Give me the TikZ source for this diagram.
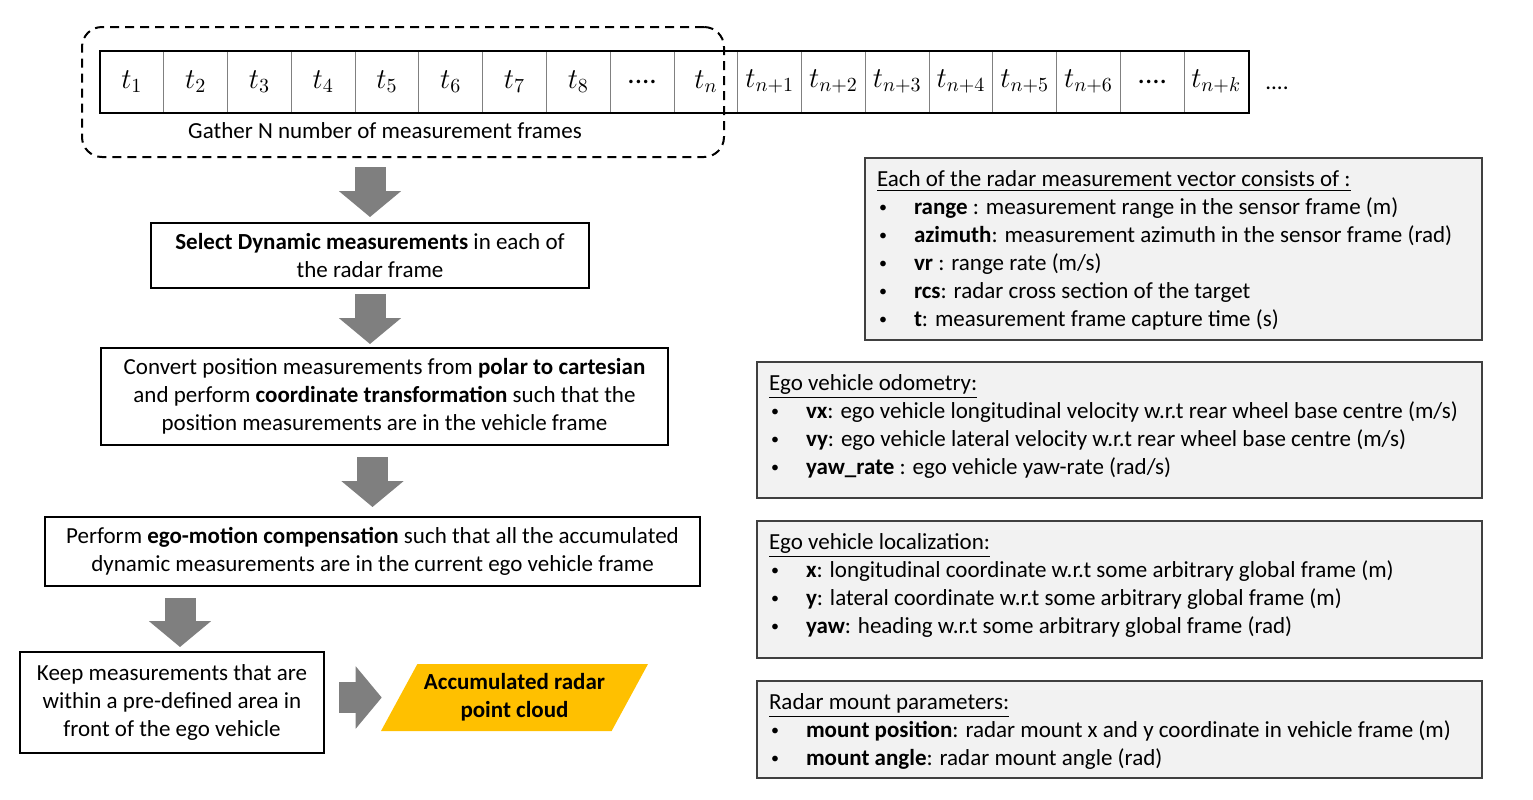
\documentclass[tikz,border=0pt]{standalone}
\usepackage{fontspec}
\setmainfont{Carlito}
\usetikzlibrary{arrows.meta,shapes.geometric}

\definecolor{arrowgray}{HTML}{7F7F7F}
\definecolor{cloudyellow}{HTML}{FFC000}
\definecolor{panelfill}{HTML}{F2F2F2}
\definecolor{paneldraw}{HTML}{404040}

\newcommand\framedots{....}
\newcommand\radbullet{\makebox[18.5pt][l]{\hspace{1pt}\raisebox{0.2ex}{\footnotesize\textbullet}}}

\tikzset{
    stepbox/.style={draw=black, line width=1pt, fill=white, align=center, inner sep=0pt},
    framecell/.style={draw=gray, line width=0.5pt, minimum width=31.89pt, minimum height=30.5pt, inner sep=0pt},
    fatarrow/.style={draw=arrowgray, line width=15.5pt, -{Triangle[width=30.5pt,length=13pt]}},
    infobox/.style={draw=paneldraw, line width=1pt, fill=panelfill, anchor=north west, inner xsep=6pt, inner ysep=6.5pt, align=left},
}

\begin{document}
\begin{tikzpicture}[x=0.5pt, y=-0.5pt, font=\fontsize{11.5}{14}\selectfont]
    \useasboundingbox (0,0) rectangle (1533,799);

    % measurement frames
    \foreach \lbl [count=\i] in {$t_1$,$t_2$,$t_3$,$t_4$,$t_5$,$t_6$,$t_7$,$t_8$,\framedots,$t_n$,
        $t_{n+1}$,$t_{n+2}$,$t_{n+3}$,$t_{n+4}$,$t_{n+5}$,$t_{n+6}$,\framedots,$t_{n+k}$}
        \node[framecell, font=\fontsize{14.5}{14}\selectfont] (cell\i) at ({100+63.78*(\i-0.5)},81.5) {\lbl};
    \draw[line width=1pt] (cell1.north west) rectangle (cell18.south east);
    \node (more) at (1277,88) {\framedots};

    \node[draw, line width=1pt, dash pattern=on 4.5pt off 3pt, rounded corners=10pt,
        minimum width=321pt, minimum height=65pt] (gather) at (403,92) {};
    \node (gatherlbl) at (385,131) {Gather N number of measurement frames};

    % processing steps
    \node[stepbox, minimum width=219pt, minimum height=32.5pt] (select) at (370,255.5)
        {\textbf{Select Dynamic measurements} in each of\\the radar frame};
    \node[stepbox, minimum width=283.5pt, minimum height=48.5pt] (convert) at (384.5,396.5)
        {Convert position measurements from \textbf{polar to cartesian}\\and perform \textbf{coordinate transformation} such that the\\position measurements are in the vehicle frame};
    \node[stepbox, minimum width=327.5pt, minimum height=34.5pt] (comp) at (372.5,551.5)
        {Perform \textbf{ego-motion compensation} such that all the accumulated\\dynamic measurements are in the current ego vehicle frame};
    \node[stepbox, minimum width=152pt, minimum height=50.5pt] (keep) at (172,702.5)
        {Keep measurements that are\\within a pre-defined area in\\front of the ego vehicle};
    \node[trapezium, trapezium left angle=52.7, trapezium right angle=127.3, trapezium stretches body,
        fill=cloudyellow, minimum width=133.5pt, minimum height=33.5pt, inner sep=0pt, align=center,
        font=\fontsize{11.5}{14}\selectfont\bfseries] (cloud) at (514.5,697.5) {Accumulated radar\\point cloud};

    \draw[fatarrow, shorten <=4.5pt, shorten >=2.5pt] (gather.south -| select.north) -- (select.north);
    \draw[fatarrow, shorten <=2.5pt, shorten >=1.5pt] (select.south) -- (select.south |- convert.north);
    \draw[fatarrow, shorten <=5.5pt, shorten >=4.5pt] (convert.south -| comp.north) -- (comp.north);
    \draw[fatarrow, shorten <=5.5pt, shorten >=2pt] ([xshift=4pt]keep.north |- comp.south) -- ([xshift=4pt]keep.north);
    \draw[fatarrow, shorten <=7pt, shorten >=8.5pt] (keep.east |- cloud.left side) -- (cloud.left side);

    % input data
    \node[infobox] (meas) at (864,157) {\parbox[c][78pt][t]{296.5pt}{%
        \underline{Each of the radar measurement vector consists of :}\\
        \radbullet\textbf{range} : measurement range in the sensor frame (m)\\
        \radbullet\textbf{azimuth}: measurement azimuth in the sensor frame (rad)\\
        \radbullet\textbf{vr} : range rate (m/s)\\
        \radbullet\textbf{rcs}: radar cross section of the target\\
        \radbullet\textbf{t}: measurement frame capture time (s)}};
    \node[infobox] (odom) at (756,361) {\parbox[c][55pt][t]{350.5pt}{%
        \underline{Ego vehicle odometry:}\\
        \radbullet\textbf{vx}: ego vehicle longitudinal velocity w.r.t rear wheel base centre (m/s)\\
        \radbullet\textbf{vy}: ego vehicle lateral velocity w.r.t rear wheel base centre (m/s)\\
        \radbullet\textbf{yaw\_rate} : ego vehicle yaw-rate (rad/s)}};
    \node[infobox] (local) at (756,520) {\parbox[c][55.5pt][t]{350.5pt}{%
        \underline{Ego vehicle localization:}\\
        \radbullet\textbf{x}: longitudinal coordinate w.r.t some arbitrary global frame (m)\\
        \radbullet\textbf{y}: lateral coordinate w.r.t some arbitrary global frame (m)\\
        \radbullet\textbf{yaw}: heading w.r.t some arbitrary global frame (rad)}};
    \node[infobox] (mount) at (756,680) {\parbox[c][35.5pt][t]{350.5pt}{%
        \underline{Radar mount parameters:}\\
        \radbullet\textbf{mount position}: radar mount x and y coordinate in vehicle frame (m)\\
        \radbullet\textbf{mount angle}: radar mount angle (rad)}};
\end{tikzpicture}
\end{document}
